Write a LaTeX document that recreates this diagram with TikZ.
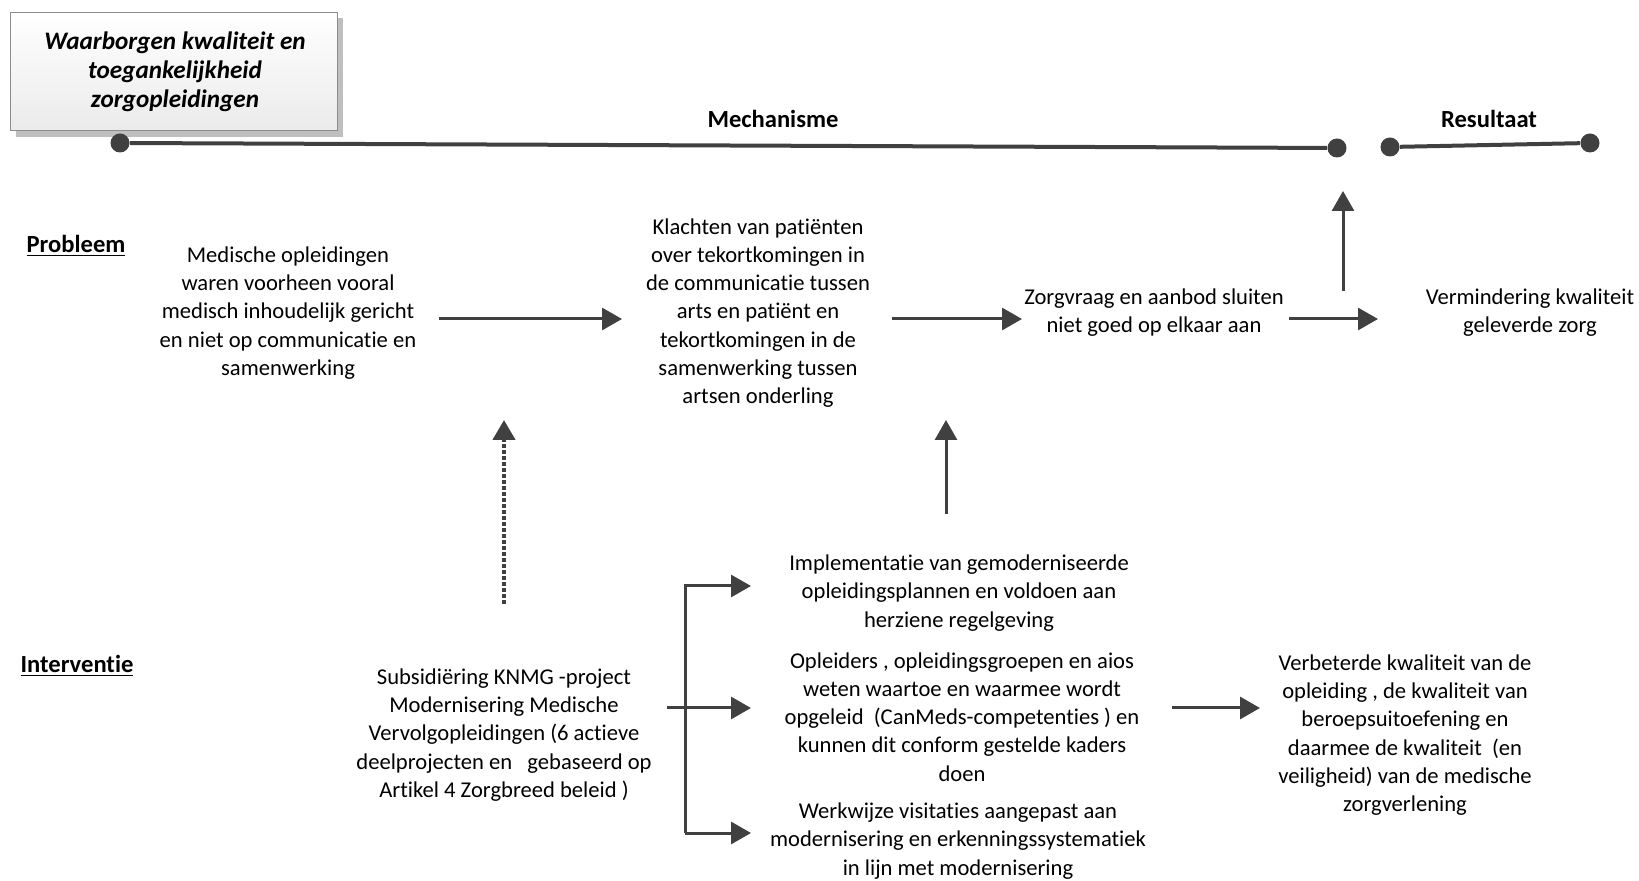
\documentclass[tikz,border=0pt]{standalone}
\usepackage{fontspec}
\setmainfont[Ligatures={NoCommon}]{Carlito}
\usetikzlibrary{arrows.meta}
\definecolor{dk}{HTML}{404040}
\definecolor{boxline}{HTML}{8C8C8C}
\definecolor{shadowc}{HTML}{BFBFBF}
\begin{document}
\begin{tikzpicture}[x=0.5pt,y=-0.5pt,
  txt/.style={align=center,font=\fontsize{11.3}{14.1}\selectfont,inner sep=0pt,text=black},
  lbl/.style={font=\fontsize{12.3}{15}\selectfont\bfseries,inner sep=0pt},
  arr/.style={draw=dk,line width=1.5pt,-{Triangle[length=10pt,width=11pt]}},
  dotarr/.style={draw=dk,line width=2.2pt,dash pattern=on 2pt off 1pt,-{Triangle[length=10pt,width=11pt]}},
  tl/.style={draw=dk,line width=2pt},
  dot/.style={circle,fill=dk,minimum size=9.5pt,inner sep=0pt}]
\useasboundingbox (0,0) rectangle (1639,881);
% title box
\fill[shadowc] (16,18) rectangle (343,137);
\draw[boxline,top color=white,bottom color=black!8] (10,12) rectangle (337,130);
\node[align=center,font=\fontsize{12.6}{14.6}\selectfont\bfseries\itshape,inner sep=0pt] (title) at (175,72) {Waarborgen kwaliteit en\\toegankelijkheid\\zorgopleidingen};
% timeline
\node[dot] (m1) at (120,143) {};
\node[dot] (m2) at (1337,148) {};
\node[dot] (r1) at (1390,147) {};
\node[dot] (r2) at (1590,143) {};
\draw[tl] (m1) -- (m2);
\draw[tl] (r1) -- (r2);
\node[lbl] (mech) at (773,119) {Mechanisme};
\node[lbl] (res) at (1489,119) {Resultaat};
% row labels
\node[lbl] (prob) at (76,246) {\underline{Probleem}};
\node[lbl] (interv) at (77,666) {\underline{Interventie}};
% problem row
\node[txt] (p1) at (288,313) {Medische opleidingen\\waren voorheen vooral\\medisch inhoudelijk gericht\\en niet op communicatie en\\samenwerking};
\node[txt] (p2) at (758,313) {Klachten van patiënten\\over tekortkomingen in\\de communicatie tussen\\arts en patiënt en\\tekortkomingen in de\\samenwerking tussen\\artsen onderling};
\node[txt] (p3) at (1154,313) {Zorgvraag en aanbod sluiten\\niet goed op elkaar aan};
\node[txt] (p4) at (1530,313) {Vermindering kwaliteit\\geleverde zorg};
\coordinate (a1s) at (439,319); \coordinate (a1e) at (622,319);
\coordinate (a2s) at (892,319); \coordinate (a2e) at (1022,319);
\coordinate (a3s) at (1289,319); \coordinate (a3e) at (1378,319);
\coordinate (u1s) at (1343,291); \coordinate (u1e) at (1343,191);
\draw[arr] (a1s) -- (a1e);
\draw[arr] (a2s) -- (a2e);
\draw[arr] (a3s) -- (a3e);
\draw[arr] (u1s) -- (u1e);
% intervention row
\node[txt] (i1) at (504,735) {Subsidiëring KNMG -project\\Modernisering Medische\\Vervolgopleidingen  (6 actieve\\deelprojecten en \ \ gebaseerd op\\Artikel 4 Zorgbreed beleid )};
\node[txt] (i2) at (959,593) {Implementatie van gemoderniseerde\\opleidingsplannen en voldoen aan\\herziene regelgeving};
\node[txt] (i3) at (962,717) {Opleiders , opleidingsgroepen en aios\\weten waartoe en waarmee wordt\\opgeleid \ (CanMeds-competenties ) en\\kunnen dit conform gestelde kaders\\doen};
\node[txt] (i4) at (958,841) {Werkwijze visitaties aangepast aan\\modernisering en erkenningssystematiek\\in lijn met modernisering};
\node[txt] (i5) at (1405,735) {Verbeterde kwaliteit van de\\opleiding , de kwaliteit van\\beroepsuitoefening en\\daarmee de kwaliteit \ (en\\veiligheid) van de medische\\zorgverlening};
\coordinate (d1s) at (504,604); \coordinate (d1e) at (504,420);
\coordinate (u2s) at (946,514); \coordinate (u2e) at (946,420);
\draw[dotarr] (d1s) -- (d1e);
\draw[arr] (u2s) -- (u2e);
\coordinate (bt) at (685,586); \coordinate (bb) at (685,833);
\coordinate (bm) at (667,708);
\coordinate (e1) at (751,586); \coordinate (e2) at (751,708); \coordinate (e3) at (751,833);
\draw[arr] (bb) -- (bt) -- (e1);
\draw[arr] (bb) -- (e3);
\draw[arr] (bm) -- (e2);
\coordinate (a4s) at (1172,708); \coordinate (a4e) at (1260,708);
\draw[arr] (a4s) -- (a4e);
\end{tikzpicture}
\end{document}
